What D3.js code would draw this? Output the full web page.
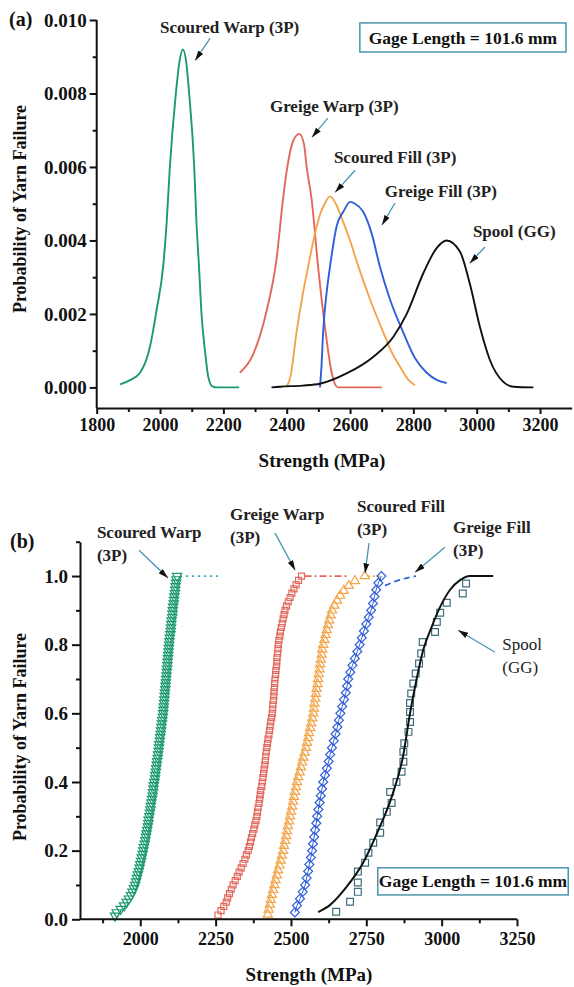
<!DOCTYPE html>
<html>
<head>
<meta charset="utf-8">
<script src="https://cdn.jsdelivr.net/npm/d3@7"></script>
<style>
  body { margin: 0; background: #fff; }
  svg text { font-family: 'Liberation Serif', 'Times New Roman', serif; }
</style>
</head>
<body>
<div id="chart"></div>
<script>
// ---------- (a) probability density, [strength MPa, density] ----------
const pdfScouredWarp = [[1874, 0.00008], [1905, 0.0002], [1937, 0.0004], [1968, 0.0011], [1989, 0.0021],
  [2010, 0.0033], [2021, 0.0045], [2031, 0.006], [2050, 0.008], [2062, 0.0089], [2072, 0.0092],
  [2082, 0.0089], [2092, 0.008], [2108, 0.006], [2115, 0.0045], [2123, 0.0033], [2131, 0.002],
  [2142, 0.001], [2152, 0.0003], [2165, 0.00003], [2180, 0], [2250, 0]];
const pdfGreigeWarp = [[2252, 0.0004], [2294, 0.0009], [2337, 0.0021], [2368, 0.0035], [2388, 0.0051],
  [2402, 0.006], [2420, 0.0067], [2440, 0.0069], [2455, 0.0066], [2463, 0.006], [2479, 0.0051],
  [2499, 0.0033], [2523, 0.0015], [2542, 0.0004], [2562, 0], [2700, 0]];
const pdfScouredFill = [[2400, 0.00002], [2412, 0.0003], [2431, 0.0015], [2450, 0.0025], [2468, 0.0033],
  [2487, 0.0041], [2505, 0.0047], [2520, 0.005], [2537, 0.0052], [2555, 0.005], [2574, 0.0046],
  [2600, 0.004], [2626, 0.0033], [2663, 0.0024], [2705, 0.0015], [2735, 0.0009], [2758, 0.00056],
  [2785, 0.0002], [2805, 0.00006]];
const pdfGreigeFill = [[2505, 0], [2510, 0.0006], [2515, 0.0015], [2525, 0.0025], [2537, 0.0033],
  [2558, 0.0044], [2580, 0.0048], [2600, 0.00505], [2616, 0.005], [2640, 0.0048], [2668, 0.0042],
  [2694, 0.0033], [2726, 0.0024], [2768, 0.0015], [2805, 0.0008], [2842, 0.0004], [2875, 0.0002],
  [2905, 0.00012]];
const pdfSpool = [[2352, 0], [2379, 0.00002], [2450, 0.00005], [2505, 0.0001], [2589, 0.00038],
  [2673, 0.00083], [2737, 0.00138], [2779, 0.002], [2831, 0.0031], [2874, 0.0038], [2905, 0.004],
  [2947, 0.0037], [2979, 0.0028], [3010, 0.00165], [3042, 0.00074], [3084, 0.00015], [3116, 0.00002],
  [3179, 0]];

// ---------- (b) measured strengths (sorted), plotted at rank probability ----------
const strScouredWarp = [1916, 1922, 1935, 1946, 1955, 1962, 1969, 1974, 1979, 1983, 1986, 1989, 1992,
  1995, 1998, 2000, 2003, 2005, 2008, 2010, 2012, 2015, 2017, 2019, 2021, 2023, 2025, 2027, 2028, 2030,
  2032, 2034, 2035, 2037, 2039, 2041, 2042, 2044, 2045, 2047, 2049, 2050, 2052, 2053, 2055, 2056, 2058,
  2059, 2061, 2062, 2063, 2065, 2066, 2068, 2069, 2070, 2072, 2073, 2075, 2076, 2077, 2078, 2079, 2080,
  2081, 2082, 2083, 2084, 2085, 2086, 2087, 2088, 2089, 2090, 2091, 2092, 2093, 2094, 2095, 2096, 2097,
  2098, 2100, 2101, 2102, 2103, 2104, 2106, 2107, 2108, 2109, 2111, 2112, 2113, 2115, 2116, 2117, 2119,
  2120, 2122];
const strGreigeWarp = [2258, 2268, 2277, 2285, 2290, 2296, 2302, 2308, 2315, 2322, 2328, 2335, 2341,
  2347, 2352, 2358, 2362, 2366, 2369, 2373, 2377, 2380, 2384, 2387, 2389, 2391, 2394, 2396, 2398, 2400,
  2403, 2405, 2407, 2409, 2411, 2413, 2415, 2416, 2418, 2420, 2422, 2424, 2427, 2429, 2431, 2433, 2436,
  2438, 2439, 2440, 2442, 2443, 2444, 2445, 2446, 2447, 2449, 2450, 2452, 2453, 2454, 2456, 2457, 2458,
  2460, 2463, 2465, 2468, 2471, 2474, 2477, 2480, 2485, 2491, 2497, 2503, 2510, 2517, 2525, 2535];
const strScouredFill = [2423, 2426, 2430, 2433, 2437, 2441, 2445, 2449, 2453, 2457, 2462, 2466, 2470,
  2474, 2477, 2481, 2484, 2487, 2490, 2494, 2497, 2500, 2504, 2507, 2510, 2513, 2517, 2520, 2524, 2529,
  2533, 2537, 2541, 2546, 2550, 2553, 2557, 2560, 2564, 2567, 2571, 2574, 2576, 2578, 2581, 2583, 2585,
  2588, 2590, 2592, 2595, 2597, 2599, 2602, 2604, 2607, 2611, 2615, 2619, 2623, 2627, 2632, 2636, 2644,
  2653, 2663, 2675, 2692, 2712, 2745];
const strGreigeFill = [2513, 2520, 2530, 2539, 2547, 2552, 2557, 2561, 2566, 2570, 2573, 2577, 2580,
  2584, 2587, 2591, 2595, 2599, 2603, 2607, 2613, 2619, 2625, 2630, 2636, 2642, 2648, 2654, 2659, 2664,
  2670, 2676, 2682, 2686, 2690, 2697, 2704, 2712, 2720, 2728, 2735, 2742, 2750, 2758, 2766, 2772, 2777,
  2783, 2790, 2800];
const ptsSpool = [[2650, 0.022], [2696, 0.051], [2722, 0.08], [2722, 0.107], [2722, 0.139], [2746, 0.165],
  [2757, 0.194], [2773, 0.223], [2796, 0.252], [2796, 0.282], [2818, 0.313], [2834, 0.339], [2829, 0.371],
  [2850, 0.4], [2867, 0.43], [2873, 0.459], [2873, 0.488], [2876, 0.513], [2890, 0.546], [2895, 0.575],
  [2895, 0.604], [2895, 0.63], [2899, 0.658], [2906, 0.687], [2914, 0.716], [2925, 0.745], [2932, 0.774],
  [2937, 0.808], [2978, 0.837], [2984, 0.866], [2995, 0.893], [3017, 0.922], [3070, 0.949], [3081, 0.978]];
const cdfSpool = [[2590, 0.021], [2630, 0.042], [2685, 0.095], [2739, 0.164], [2790, 0.26], [2834, 0.356],
  [2873, 0.48], [2895, 0.6], [2917, 0.7], [2939, 0.785], [2967, 0.852], [2995, 0.91], [3028, 0.96],
  [3061, 0.988], [3094, 1.0], [3171, 1.0]];
// fitted-curve tails beyond the last data point
const tailScouredWarp = [[2132, 1.0], [2258, 1.0]];
const tailGreigeWarp = [[2545, 1.0], [2692, 1.0]];
const tailScouredFill = [[2755, 1.0], [2796, 1.0]];
const tailGreigeFill = [[2812, 0.972], [2845, 0.984], [2915, 1.0]];

// ---------- axes ticks ----------
const topXTicks = [1800, 2000, 2200, 2400, 2600, 2800, 3000, 3200];
const topXMinor = [1900, 2100, 2300, 2500, 2700, 2900, 3100];
const topYTicks = [0, 0.002, 0.004, 0.006, 0.008, 0.010];
const topYMinor = [0.001, 0.003, 0.005, 0.007, 0.009];
const botXTicks = [2000, 2250, 2500, 2750, 3000, 3250];
const botXMinor = [1875, 2125, 2375, 2625, 2875, 3125];
const botYTicks = [0, 0.2, 0.4, 0.6, 0.8, 1.0];
const botYMinor = [0.1, 0.3, 0.5, 0.7, 0.9, 1.1];

const colors = {
  scouredWarp: '#1b9a6c',
  greigeWarp: '#e2685c',
  scouredFill: '#f2a54a',
  greigeFill: '#2f5fd8',
  spool: '#111111',
  spoolPts: '#3f6f7c',
  arrow: '#4a93b3'
};

const FONT = "'Liberation Serif', 'Times New Roman', serif";
const W = 574, H = 987;
const svg = d3.select('#chart').append('svg').attr('width', W).attr('height', H)
  .attr('font-family', FONT);

svg.append('defs').append('marker')
  .attr('id', 'head')
  .attr('viewBox', '0 0 10 6')
  .attr('refX', 10).attr('refY', 3)
  .attr('markerWidth', 10).attr('markerHeight', 6)
  .attr('markerUnits', 'userSpaceOnUse')
  .attr('orient', 'auto')
  .append('path').attr('d', 'M0,0L10,3L0,6Z').attr('fill', '#111');

// style a d3 axis group
function styleAxis(g, size) {
  g.attr('font-family', FONT).attr('font-size', size).attr('font-weight', 'bold');
  g.selectAll('path, line').attr('stroke', '#111').attr('stroke-width', 2);
  g.selectAll('text').attr('fill', '#111');
}

function minorAxis(axisFn, scale, values, size) {
  return axisFn(scale).tickValues(values).tickSize(size).tickSizeOuter(0).tickFormat('');
}

function label(x, y, txt, size, weight) {
  return svg.append('text').attr('x', x).attr('y', y)
    .attr('font-family', FONT).attr('font-size', size)
    .attr('font-weight', weight || 'bold').attr('fill', '#111').text(txt);
}

function annotate(x, y, items, size) {
  items.forEach((a) => {
    svg.append('line')
      .attr('x1', x(a.from[0])).attr('y1', y(a.from[1]))
      .attr('x2', x(a.to[0])).attr('y2', y(a.to[1]))
      .attr('stroke', colors.arrow).attr('stroke-width', 1.3)
      .attr('marker-end', 'url(#head)');
    const t = svg.append('text')
      .attr('x', x(a.at[0])).attr('y', y(a.at[1]))
      .attr('font-family', FONT)
      .attr('font-size', size).attr('font-weight', a.weight || 'bold').attr('fill', '#222');
    a.lines.forEach((l, i) => {
      t.append('tspan').attr('x', x(a.at[0])).attr('dy', i === 0 ? 0 : size * 1.35).text(l);
    });
  });
}

function gageBox(x, y, x0, x1, y0, y1) {
  svg.append('rect')
    .attr('x', x(x0)).attr('y', y(y0))
    .attr('width', x(x1) - x(x0)).attr('height', y(y1) - y(y0))
    .attr('fill', '#fff').attr('stroke', '#4a95ad').attr('stroke-width', 1.5);
  label((x(x0) + x(x1)) / 2, (y(y0) + y(y1)) / 2, 'Gage Length = 101.6 mm', 17.5)
    .attr('dy', '0.35em').attr('text-anchor', 'middle');
}

// ====================== panel (a) ======================
const xA = d3.scaleLinear().domain([1800, 3300]).range([96.7, 571.7]);
const yA = d3.scaleLinear().domain([-0.00056, 0.010]).range([408, 20]);

const lineA = d3.line().x((d) => xA(d[0])).y((d) => yA(d[1])).curve(d3.curveMonotoneX);
[
  [pdfScouredWarp, colors.scouredWarp],
  [pdfGreigeWarp, colors.greigeWarp],
  [pdfScouredFill, colors.scouredFill],
  [pdfGreigeFill, colors.greigeFill],
  [pdfSpool, colors.spool]
].forEach(([d, c]) => {
  svg.append('path').datum(d).attr('d', lineA)
    .attr('fill', 'none').attr('stroke', c).attr('stroke-width', 1.9);
});

svg.append('g').attr('transform', `translate(0,${yA.range()[0]})`)
  .call(d3.axisBottom(xA).tickValues(topXTicks).tickFormat(d3.format('d'))
    .tickSize(6).tickSizeOuter(0).tickPadding(4))
  .call((g) => styleAxis(g, 18));
svg.append('g').attr('transform', `translate(0,${yA.range()[0]})`)
  .call(minorAxis(d3.axisBottom, xA, topXMinor, 4))
  .call((g) => { styleAxis(g, 18); g.select('.domain').remove(); });

svg.append('g').attr('transform', `translate(${xA.range()[0]},0)`)
  .call(d3.axisLeft(yA).tickValues(topYTicks).tickFormat(d3.format('.3f'))
    .tickSize(7).tickSizeOuter(0).tickPadding(3))
  .call((g) => { styleAxis(g, 19); g.select('.domain').attr('d', `M0,${yA.range()[0]}V${yA(0.010)}`); });
svg.append('g').attr('transform', `translate(${xA.range()[0]},0)`)
  .call(minorAxis(d3.axisLeft, yA, topYMinor, 4))
  .call((g) => { styleAxis(g, 19); g.select('.domain').remove(); });

label(322, 467, 'Strength (MPa)', 19).attr('text-anchor', 'middle');
label(0, 0, 'Probability of Yarn Failure', 18)
  .attr('transform', 'translate(26,209) rotate(-90)').attr('text-anchor', 'middle');
label(9, 26, '(a)', 20);

annotate(xA, yA, [
  { lines: ['Scoured Warp (3P)'], at: [2000, 0.00964], from: [2158, 0.0095], to: [2111, 0.0089] },
  { lines: ['Greige Warp (3P)'], at: [2347, 0.0075], from: [2530, 0.00733], to: [2480, 0.00681] },
  { lines: ['Scoured Fill (3P)'], at: [2549, 0.0061], from: [2616, 0.00591], to: [2553, 0.00531] },
  { lines: ['Greige Fill (3P)'], at: [2710, 0.00518], from: [2742, 0.00502], to: [2701, 0.00442] },
  { lines: ['Spool (GG)'], at: [2988, 0.00409], from: [3026, 0.00382], to: [2978, 0.00338] }
], 17);

gageBox(xA, yA, 2631, 3282, 0.00992, 0.00913);

// ====================== panel (b) ======================
const xB = d3.scaleLinear().domain([1800, 3250]).range([80, 517]);
const yB = d3.scaleLinear().domain([0, 1.1]).range([919.3, 541.7]);
const rank = (arr) => arr.map((v, i) => [v, (i + 1) / arr.length]);

const lineB = d3.line().x((d) => xB(d[0])).y((d) => yB(d[1]));
const smoothB = d3.line().x((d) => xB(d[0])).y((d) => yB(d[1])).curve(d3.curveMonotoneX);

// tails of the fitted curves
[
  [tailScouredWarp, '#38a9c0', '2,4'],
  [tailGreigeWarp, colors.greigeWarp, '7,3,2,3'],
  [tailScouredFill, colors.scouredFill, '2,3'],
  [tailGreigeFill, colors.greigeFill, '6,4']
].forEach(([d, c, dash]) => {
  svg.append('path').datum(d).attr('d', smoothB)
    .attr('fill', 'none').attr('stroke', c).attr('stroke-width', 1.7).attr('stroke-dasharray', dash);
});

// greige fill line through the points
svg.append('path').datum(rank(strGreigeFill)).attr('d', lineB)
  .attr('fill', 'none').attr('stroke', colors.greigeFill).attr('stroke-width', 1);

function markers(data, sym, size, color, rot) {
  svg.append('g').selectAll('path').data(data).join('path')
    .attr('d', d3.symbol(sym, size))
    .attr('transform', (d) => `translate(${xB(d[0])},${yB(d[1])}) rotate(${rot})`)
    .attr('fill', 'none').attr('stroke', color).attr('stroke-width', 1.2);
}
markers(rank(strScouredWarp), d3.symbolTriangle, 38, colors.scouredWarp, 180);
markers(rank(strGreigeWarp), d3.symbolSquare, 36, colors.greigeWarp, 0);
markers(rank(strScouredFill), d3.symbolTriangle, 36, colors.scouredFill, 0);
markers(rank(strGreigeFill), d3.symbolSquare, 40, colors.greigeFill, 45);
markers(ptsSpool, d3.symbolSquare, 46, colors.spoolPts, 0);

svg.append('path').datum(cdfSpool).attr('d', smoothB)
  .attr('fill', 'none').attr('stroke', colors.spool).attr('stroke-width', 2);

svg.append('g').attr('transform', `translate(0,${yB.range()[0]})`)
  .call(d3.axisBottom(xB).tickValues(botXTicks).tickFormat(d3.format('d'))
    .tickSize(7).tickSizeOuter(0).tickPadding(6))
  .call((g) => { styleAxis(g, 18); g.select('.domain').attr('d', `M${xB.range()[0]},0H${xB.range()[1]}`); });
svg.append('g').attr('transform', `translate(0,${yB.range()[0]})`)
  .call(minorAxis(d3.axisBottom, xB, botXMinor, 4))
  .call((g) => { styleAxis(g, 18); g.select('.domain').remove(); });

svg.append('g').attr('transform', `translate(${xB.range()[0]},0)`)
  .call(d3.axisLeft(yB).tickValues(botYTicks).tickFormat(d3.format('.1f'))
    .tickSize(8).tickSizeOuter(0).tickPadding(4))
  .call((g) => styleAxis(g, 19));
svg.append('g').attr('transform', `translate(${xB.range()[0]},0)`)
  .call(minorAxis(d3.axisLeft, yB, botYMinor, 4))
  .call((g) => { styleAxis(g, 19); g.select('.domain').remove(); });

label(309, 981, 'Strength (MPa)', 19).attr('text-anchor', 'middle');
label(0, 0, 'Probability of Yarn Failure', 18)
  .attr('transform', 'translate(26,737) rotate(-90)').attr('text-anchor', 'middle');
label(10, 548, '(b)', 20);

annotate(xB, yB, [
  { lines: ['Scoured Warp', '(3P)'], at: [1856, 1.11], from: [1996, 1.075], to: [2092, 0.994] },
  { lines: ['Greige Warp', '(3P)'], at: [2298, 1.162], from: [2447, 1.125], to: [2514, 1.017] },
  { lines: ['Scoured Fill', '(3P)'], at: [2719, 1.186], from: [2759, 1.096], to: [2746, 1.008] },
  { lines: ['Greige Fill', '(3P)'], at: [3038, 1.125], from: [3011, 1.084], to: [2912, 1.011] },
  { lines: ['Spool', '(GG)'], at: [3201, 0.784], from: [3177, 0.778], to: [3055, 0.842], weight: 'normal' }
], 17);

gageBox(xB, yB, 2788, 3420, 0.15, 0.071);
</script>
</body>
</html>
